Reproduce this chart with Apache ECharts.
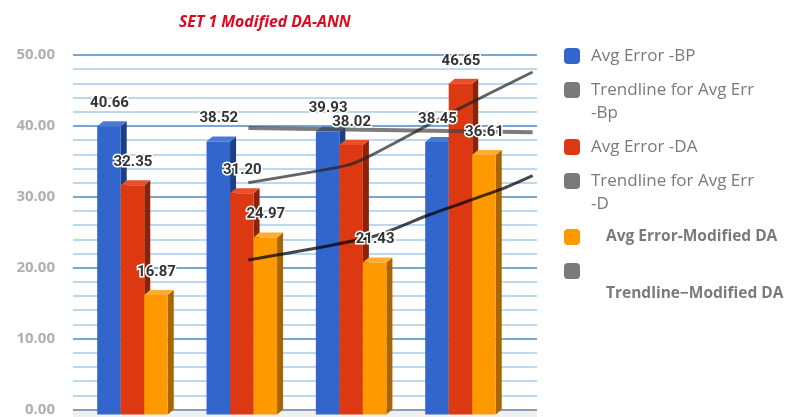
<!DOCTYPE html>
<html>
<head>
<meta charset="utf-8">
<style>html,body{margin:0;padding:0;background:#fff}#c{width:792px;height:417px;filter:blur(0.7px)}</style>
<script src="https://cdn.jsdelivr.net/npm/echarts@6/dist/echarts.min.js"></script>
</head>
<body>
<div id="c"></div>
<script>
var categories = [0, 1, 2, 3];
var bpValues = [40.66, 38.52, 39.93, 38.45];
var daValues = [32.35, 31.20, 38.02, 46.65];
var modValues = [16.87, 24.97, 21.43, 36.61];
var trendBp = [[1.06, 39.7], [3.66, 39.1]];
var trendDa = [[1.06, 32.0], [1.95, 34.4], [2.15, 35.6], [2.69, 40.0], [2.97, 42.3], [3.66, 47.6]];
var trendMod = [[1.06, 21.1], [2.2, 24.4], [2.72, 27.5], [3.36, 31.0], [3.66, 33.0]];
var yTicks = [0, 10, 20, 30, 40, 50];
var titleText = 'SET 1 Modified DA-ANN';
var nameBp = 'Avg Error -BP';
var nameTrendBp = 'Trendline for Avg Err\n-Bp';
var nameDa = 'Avg Error -DA';
var nameTrendDa = 'Trendline for Avg Err\n-D';
var nameMod = 'Avg Error-Modified DA';
var nameTrendMod = 'Trendline\u2212Modified DA';

var BW = 0.215, DX = 6, DY = 5;
function bars3d(name, values, slot, face, top, side) {
  return {
    name: name, type: 'custom', z: 2, itemStyle: {color: face},
    data: categories.map(function (c, i) { return [c, values[i]]; }),
    encode: {x: 0, y: 1},
    renderItem: function (p, api) {
      var c = api.value(0), v = api.value(1);
      var a = api.coord([c + (slot - 0.5) * BW, v]);
      var b = api.coord([c + (slot + 0.5) * BW, 0]);
      var x0 = a[0], x1 = b[0], yf = a[1] + DY, y0 = b[1];
      return {type: 'group', children: [
        {type: 'polygon', shape: {points: [[x1, yf], [x1 + DX, yf - DY], [x1 + DX, y0], [x1, y0 + DY]]}, style: {fill: side}},
        {type: 'polygon', shape: {points: [[x0, yf], [x1, yf], [x1 + DX, yf - DY], [x0 + DX, yf - DY]]}, style: {fill: top}},
        {type: 'rect', shape: {x: x0, y: yf, width: x1 - x0, height: y0 + DY - yf}, style: {fill: face}}
      ]};
    }
  };
}
function labels(values, slot) {
  return {
    type: 'custom', z: 6, silent: true, legendHoverLink: false,
    data: categories.map(function (c, i) { return [c, values[i]]; }),
    encode: {x: 0, y: 1},
    renderItem: function (p, api) {
      var v = api.value(1);
      var a = api.coord([api.value(0) + slot * BW, v]);
      return {type: 'text', x: a[0] + 0.5, y: a[1] - 18, style: {
        text: v.toFixed(2), fill: '#333', font: 'bold 15px Roboto',
        align: 'center', verticalAlign: 'middle', stroke: '#fff', lineWidth: 3
      }};
    }
  };
}
function trend(name, pts, color, width, opacity) {
  return {name: name, type: 'line', z: 4, data: pts, smooth: 0.25, showSymbol: false,
    itemStyle: {color: '#7a7a7a'}, lineStyle: {color: color, width: width, opacity: opacity}};
}
function legendItem(name, color, top, prefix, left, size, weight) {
  return {
    left: 564, top: top, orient: 'vertical', selectedMode: false, padding: 0,
    itemWidth: 16, itemHeight: 16, itemGap: 0,
    data: [{name: name, icon: 'roundRect', itemStyle: {color: color}}],
    formatter: function (n) { return prefix + n; },
    textStyle: {color: '#7a7a7a', fontSize: size, fontWeight: weight,
      fontFamily: 'Open Sans', lineHeight: 23, padding: [0, 0, 0, left]}
  };
}
var option = {
  animation: false,
  backgroundColor: '#fff',
  title: {text: titleText, left: 179, top: 14, padding: 0,
    textStyle: {color: '#dd0a1e', fontSize: 15.8, fontWeight: 'bold', fontStyle: 'italic', fontFamily: 'Open Sans'}},
  grid: {left: 73, top: 55, width: 464, height: 355, containLabel: false},
  xAxis: {type: 'value', min: -0.544, max: 3.70, show: false},
  yAxis: {
    type: 'value', min: yTicks[0], max: yTicks[yTicks.length - 1], interval: 10,
    axisLine: {show: false}, axisTick: {show: false},
    axisLabel: {margin: 18, color: '#b0b0b0', fontSize: 15, fontWeight: 'bold', fontFamily: 'Open Sans',
      formatter: function (v) { return v.toFixed(2); }},
    splitLine: {lineStyle: {color: '#7ba6cf', width: 2}},
    minorTick: {show: false, splitNumber: 5},
    minorSplitLine: {show: true, lineStyle: {color: '#bcd7f0', width: 2}}
  },
  legend: [
    legendItem(nameBp, '#3366cc', 44.5, '', 6, 17, 'normal'),
    legendItem(nameTrendBp, '#7a7a7a', 55.5, '\n', 6, 17, 'normal'),
    legendItem(nameDa, '#dc3912', 135.5, '', 6, 17, 'normal'),
    legendItem(nameTrendDa, '#7a7a7a', 146.5, '\n', 6, 17, 'normal'),
    legendItem(nameMod, '#ff9900', 225.5, '', 21, 15.5, 'bold'),
    legendItem(nameTrendMod, '#7a7a7a', 236.5, '\n\n', 21, 15.5, 'bold')
  ],
  graphic: [
    {type: 'rect', z: 0, shape: {x: 73, y: 410, width: 464, height: 7}, style: {fill: '#f0f0f0'}},
    {type: 'rect', z: 1, shape: {x: 73, y: 409, width: 464, height: 1.5}, style: {fill: '#999'}}
  ],
  series: [
    bars3d(nameBp, bpValues, -1, '#3366cc', '#4a7ad6', '#1f3f85'),
    trend(nameTrendBp, trendBp, '#444', 4, 0.7),
    bars3d(nameDa, daValues, 0, '#dc3912', '#e8502c', '#8c2309'),
    trend(nameTrendDa, trendDa, '#222', 3, 0.7),
    bars3d(nameMod, modValues, 1, '#ff9900', '#ffac33', '#a86500'),
    trend(nameTrendMod, trendMod, '#000', 3, 0.72),
    labels(bpValues, -1), labels(daValues, 0), labels(modValues, 1)
  ]
};
var chart = echarts.init(document.getElementById('c'));
chart.setOption(option);
</script>
</body>
</html>
